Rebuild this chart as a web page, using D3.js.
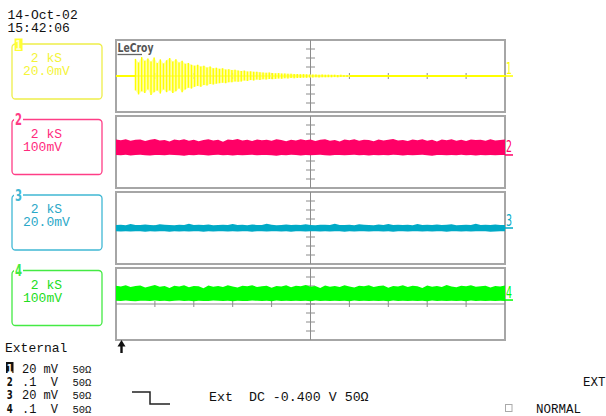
<!DOCTYPE html>
<html>
<head>
<meta charset="utf-8">
<script src="https://cdn.jsdelivr.net/npm/d3@7"></script>
<style>
  body { margin: 0; background: #fff; }
  text { font-family: "Liberation Mono", "DejaVu Sans Mono", monospace; }
</style>
</head>
<body>
<svg id="scope" width="606" height="416"></svg>
<script>
// ---- values ----
const stamp = ['14-Oct-02', '15:42:06'];
const channels = ['1', '2', '3', '4'];
const sampleRate = [' 2 kS', ' 2 kS', ' 2 kS', ' 2 kS'];
const voltsPerDiv = ['20.0mV', '100mV', '20.0mV', '100mV'];
const inputScale = ['20 mV', '.1  V', '20 mV', '.1  V'];
const inputImp = ['50Ω', '50Ω', '50Ω', '50Ω'];
const markerLevels = [0, -0.33, 0, 0.44]; // divisions
const triggerText = 'Ext  DC -0.400 V 50Ω';

// ch1: decaying burst, one spike every 0.08 div from 0.5 div
const burstStart = 0.5, burstStep = 0.08;
const yellowHi = [1.90,1.50,2.10,1.70,1.95,1.60,2.05,1.45,1.85,1.40,1.75,2.00,1.60,1.85,1.50,1.70,1.35,1.45,1.25,1.15,
  1.25,1.05,1.15,0.95,1.05,0.85,0.92,0.80,0.86,0.72,0.76,0.66,0.70,0.60,0.56,0.60,0.50,0.52,0.46,0.46,
  0.41,0.40,0.36,0.38,0.33,0.30,0.32,0.28,0.27,0.25,0.26,0.23,0.22,0.20,0.21,0.19,0.18,0.17,0.16,0.15,
  0.16,0.14,0.15,0.13,0.14,0.12,0.13,0.12,0.11,0.12];
const yellowLo = [-1.60,-2.05,-1.70,-1.90,-1.50,-2.10,-1.80,-1.60,-1.95,-1.50,-1.80,-1.60,-1.90,-1.70,-1.40,-1.80,-1.50,-1.30,-1.40,-1.20,
  -1.10,-1.20,-1.00,-1.05,-0.90,-0.95,-0.85,-0.80,-0.75,-0.80,-0.70,-0.70,-0.60,-0.65,-0.60,-0.50,-0.55,-0.45,-0.50,-0.40,
  -0.45,-0.35,-0.40,-0.33,-0.35,-0.32,-0.28,-0.30,-0.26,-0.27,-0.23,-0.24,-0.22,-0.21,-0.19,-0.20,-0.17,-0.18,-0.15,-0.16,
  -0.14,-0.15,-0.13,-0.14,-0.12,-0.13,-0.12,-0.11,-0.12,-0.11];

// ch2..ch4: noise band envelopes across the 10 divisions
const pinkHi = [1.38,1.30,1.42,1.25,1.36,1.40,1.22,1.35,1.44,1.28,1.33,1.18,1.39,1.31,1.43,1.26,1.37,1.20,1.34,1.41,
  1.29,1.36,1.15,1.38,1.32,1.44,1.27,1.35,1.21,1.40,1.30,1.37,1.24,1.42,1.33,1.19,1.36,1.28,1.41,1.31,
  1.38,1.23,1.35,1.43,1.26,1.34,1.17,1.39,1.30,1.42,1.25,1.37,1.32,1.20,1.40,1.29,1.36,1.44,1.27,1.33,
  1.22,1.38,1.31,1.41,1.24,1.35,1.18,1.39,1.30,1.43,1.26,1.36,1.21,1.40,1.32,1.37,1.25,1.42,1.29,1.34,1.38];
const pinkLo = [-0.33,-0.36,-0.31,-0.38,-0.34,-0.30,-0.35,-0.40,-0.32,-0.34,-0.37,-0.31,-0.33,-0.36,-0.42,-0.32,-0.35,-0.30,-0.34,-0.38,
  -0.33,-0.31,-0.36,-0.34,-0.39,-0.32,-0.35,-0.33,-0.30,-0.37,-0.34,-0.32,-0.36,-0.41,-0.33,-0.35,-0.31,-0.34,-0.38,-0.32,
  -0.36,-0.33,-0.30,-0.35,-0.39,-0.34,-0.32,-0.37,-0.33,-0.31,-0.36,-0.34,-0.40,-0.32,-0.35,-0.33,-0.37,-0.31,-0.34,-0.38,
  -0.32,-0.36,-0.33,-0.30,-0.35,-0.41,-0.34,-0.32,-0.37,-0.33,-0.35,-0.31,-0.36,-0.34,-0.39,-0.32,-0.35,-0.33,-0.37,-0.34,-0.32];
const cyanHi = [0.33,0.36,0.31,0.45,0.34,0.32,0.38,0.33,0.30,0.42,0.35,0.33,0.31,0.37,0.34,0.48,0.32,0.35,0.33,0.40,
  0.31,0.34,0.36,0.33,0.44,0.32,0.35,0.30,0.38,0.34,0.33,0.46,0.35,0.31,0.34,0.39,0.33,0.36,0.32,0.43,
  0.34,0.31,0.35,0.37,0.33,0.47,0.32,0.34,0.36,0.31,0.41,0.35,0.33,0.30,0.38,0.34,0.45,0.32,0.35,0.33,
  0.37,0.31,0.44,0.34,0.36,0.32,0.39,0.33,0.35,0.42,0.31,0.34,0.37,0.33,0.46,0.32,0.35,0.33,0.38,0.34,0.33];
const cyanLo = [-0.36,-0.38,-0.35,-0.40,-0.37,-0.36,-0.42,-0.35,-0.38,-0.37,-0.36,-0.41,-0.35,-0.38,-0.36,-0.39,-0.37,-0.35,-0.43,-0.36,
  -0.38,-0.35,-0.37,-0.40,-0.36,-0.38,-0.35,-0.37,-0.42,-0.36,-0.35,-0.39,-0.37,-0.36,-0.38,-0.35,-0.41,-0.37,-0.36,-0.38,
  -0.35,-0.37,-0.40,-0.36,-0.38,-0.35,-0.37,-0.43,-0.36,-0.38,-0.35,-0.37,-0.39,-0.36,-0.35,-0.38,-0.37,-0.41,-0.36,-0.35,
  -0.38,-0.37,-0.36,-0.40,-0.35,-0.38,-0.37,-0.36,-0.42,-0.35,-0.37,-0.38,-0.36,-0.39,-0.35,-0.37,-0.36,-0.41,-0.38,-0.36,-0.37];
const greenHi = [2.02,1.95,2.08,1.88,2.00,2.05,1.83,1.97,2.10,1.92,1.99,1.78,2.04,1.94,2.07,1.86,2.01,1.96,1.75,2.06,
  1.93,2.00,1.89,2.09,1.95,1.82,2.03,1.98,2.08,1.90,1.97,2.04,1.80,2.00,1.94,2.07,1.87,2.02,1.96,2.11,
  1.91,1.99,1.77,2.05,1.93,2.01,1.88,2.08,1.95,1.84,2.03,1.97,2.09,1.90,1.99,2.05,1.81,2.00,1.94,2.07,
  1.88,2.02,1.96,1.79,2.06,1.92,2.00,1.89,2.10,1.95,1.85,2.03,1.98,2.07,1.91,1.97,2.04,1.83,2.01,1.94,2.06];
const greenLo = [0.36,0.33,0.38,0.34,0.31,0.37,0.35,0.32,0.39,0.34,0.36,0.30,0.35,0.38,0.33,0.36,0.31,0.37,0.34,0.32,
  0.38,0.35,0.33,0.36,0.30,0.37,0.34,0.32,0.39,0.35,0.33,0.36,0.31,0.38,0.34,0.35,0.32,0.37,0.33,0.36,
  0.30,0.38,0.34,0.35,0.32,0.37,0.33,0.36,0.31,0.39,0.34,0.35,0.32,0.37,0.33,0.36,0.30,0.38,0.34,0.35,
  0.32,0.37,0.33,0.36,0.31,0.38,0.34,0.35,0.32,0.37,0.33,0.36,0.30,0.39,0.34,0.35,0.32,0.37,0.33,0.36,0.34];

// ---- layout / style ----
const traceColor = ['#ffff00', '#ff0066', '#00aac6', '#00ff00'];
const boxColor = ['#eeee4a', '#ff3d86', '#40b8d4', '#44ea44'];
const textColor = ['#f4f43a', '#ff2a7c', '#2aa8c8', '#22dd22'];
const gridColor = '#a6a6a6';
const panelTop = [40, 116, 192, 268];
const panelH = 72;
const boxTop = [44, 119.5, 195, 270.5];

const svg = d3.select('#scope');
svg.append('rect').attr('width', 606).attr('height', 416).attr('fill', '#fff');

const x = d3.scaleLinear().domain([0, 10]).range([116, 505]);

// timestamp
svg.selectAll('text.stamp')
  .data(stamp)
  .join('text')
  .attr('class', 'stamp')
  .attr('x', 7.5)
  .attr('y', (d, i) => 18.5 + i * 13)
  .attr('font-size', 13)
  .attr('fill', '#111')
  .text(d => d);

function noiseBand(g, y, lo, hi, color) {
  const n = hi.length;
  const pts = d3.zip(lo, hi);
  const area = d3.area()
    .x((d, j) => x(j * 10 / (n - 1)))
    .y0(d => y(d[0]))
    .y1(d => y(d[1]));
  g.append('path').attr('d', area(pts)).attr('fill', color);
}

channels.forEach((ch, i) => {
  const top = panelTop[i];
  const y = d3.scaleLinear().domain([-4, 4]).range([top + panelH, top]);
  const g = svg.append('g');

  // graticule
  g.append('rect')
    .attr('x', x(0)).attr('y', top)
    .attr('width', x(10) - x(0)).attr('height', panelH)
    .attr('fill', 'none').attr('stroke', gridColor).attr('stroke-width', 2);
  g.append('line')
    .attr('x1', x(5)).attr('x2', x(5)).attr('y1', top).attr('y2', top + panelH)
    .attr('stroke', '#8c8c8c').attr('stroke-width', 1);
  g.append('line')
    .attr('x1', x(0)).attr('x2', x(10)).attr('y1', y(0)).attr('y2', y(0))
    .attr('stroke', '#8c8c8c').attr('stroke-width', 1);
  g.selectAll('line.tx')
    .data(d3.range(1, 10))
    .join('line')
    .attr('x1', d => x(d)).attr('x2', d => x(d))
    .attr('y1', y(0) - 3).attr('y2', y(0) + 3)
    .attr('stroke', '#8c8c8c');
  g.selectAll('line.ty')
    .data(d3.range(-3, 4))
    .join('line')
    .attr('x1', x(5) - 4.5).attr('x2', x(5) + 4.5)
    .attr('y1', d => y(d)).attr('y2', d => y(d))
    .attr('stroke', '#8c8c8c');

  // traces
  if (i === 0) {
    g.append('line')
      .attr('x1', x(0)).attr('x2', x(10)).attr('y1', y(0)).attr('y2', y(0))
      .attr('stroke', traceColor[0]).attr('stroke-width', 2);
    const burst = d3.zip(yellowLo, yellowHi);
    const env = d3.area()
      .x((d, j) => x(burstStart + j * burstStep))
      .y0(d => y(d[0]))
      .y1(d => y(d[1]));
    g.append('path').attr('d', env(burst)).attr('fill', '#ffff90').attr('opacity', 0.75);
    g.selectAll('line.spike')
      .data(burst)
      .join('line')
      .attr('x1', (d, j) => x(burstStart + j * burstStep))
      .attr('x2', (d, j) => x(burstStart + j * burstStep))
      .attr('y1', d => y(d[0]))
      .attr('y2', d => y(d[1]))
      .attr('stroke', traceColor[0]).attr('stroke-width', 1.4);
  } else if (i === 1) {
    noiseBand(g, y, pinkLo, pinkHi, traceColor[1]);
  } else if (i === 2) {
    noiseBand(g, y, cyanLo, cyanHi, traceColor[2]);
  } else {
    noiseBand(g, y, greenLo, greenHi, traceColor[3]);
  }

  // trace marker at the right edge
  const ly = y(markerLevels[i]);
  g.append('line')
    .attr('x1', x(10)).attr('x2', x(10) + 8).attr('y1', ly).attr('y2', ly)
    .attr('stroke', traceColor[i]).attr('stroke-width', 1.5);
  g.append('text')
    .attr('x', 506).attr('y', ly - 2.5)
    .attr('font-size', 16)
    .attr('textLength', 6).attr('lengthAdjust', 'spacingAndGlyphs')
    .style('font-family', '"DejaVu Sans", sans-serif')
    .attr('fill', traceColor[i])
    .text(ch);

  // channel box on the left
  const bt = boxTop[i];
  const b = svg.append('g');
  b.append('rect')
    .attr('x', 12).attr('y', bt).attr('width', 90).attr('height', 55).attr('rx', 3.5)
    .attr('fill', 'none').attr('stroke', boxColor[i]).attr('stroke-width', 1.3);
  if (i === 0) {
    b.append('rect').attr('x', 14.5).attr('y', bt - 5.5).attr('width', 8).attr('height', 12.5)
      .attr('fill', '#ffff33');
    b.append('text').attr('x', 15.5).attr('y', bt + 5.5)
      .attr('font-size', 14).attr('font-weight', 'bold')
      .attr('textLength', 6).attr('lengthAdjust', 'spacingAndGlyphs')
      .style('font-family', '"DejaVu Sans", sans-serif')
      .attr('fill', '#ffffd0').text(ch);
  } else {
    b.append('rect').attr('x', 14).attr('y', bt - 2).attr('width', 9).attr('height', 4).attr('fill', '#fff');
    b.append('text').attr('x', 15).attr('y', bt + 5.5)
      .attr('font-size', 16).attr('font-weight', 'bold')
      .attr('textLength', 7).attr('lengthAdjust', 'spacingAndGlyphs')
      .style('font-family', '"DejaVu Sans", sans-serif')
      .attr('fill', boxColor[i]).text(ch);
  }
  b.append('text').attr('x', 23).attr('y', bt + 18)
    .attr('font-size', 13).attr('fill', textColor[i])
    .attr('xml:space', 'preserve').style('white-space', 'pre')
    .text(sampleRate[i]);
  b.append('text').attr('x', 23).attr('y', bt + 31)
    .attr('font-size', 13).attr('fill', textColor[i])
    .text(voltsPerDiv[i]);
});

// LeCroy logo
svg.append('text')
  .attr('x', 117.5).attr('y', 52)
  .attr('font-size', 11.5).attr('font-weight', 'bold')
  .attr('textLength', 36).attr('lengthAdjust', 'spacingAndGlyphs')
  .style('font-family', '"DejaVu Sans", sans-serif')
  .attr('fill', '#555').text('LeCroy');
svg.append('line').attr('x1', 117.5).attr('x2', 142).attr('y1', 54.5).attr('y2', 54.5)
  .attr('stroke', '#666').attr('stroke-width', 1.3);

// trigger position arrow
svg.append('path')
  .attr('d', 'M117.5,346.5 L121.5,340 L125.5,346.5 Z M120.3,346 H122.7 V353 H120.3 Z')
  .attr('fill', '#111');

// bottom-left input summary
svg.append('text').attr('x', 5).attr('y', 352).attr('font-size', 13).attr('fill', '#111').text('External');
const rowBase = [372.5, 385.9, 399.3, 412.7];
channels.forEach((ch, i) => {
  const by = rowBase[i];
  if (i === 0) {
    svg.append('rect').attr('x', 6).attr('y', by - 10.5).attr('width', 7.5).attr('height', 11).attr('fill', '#111');
  }
  svg.append('text').attr('x', 6.8).attr('y', by)
    .attr('font-size', 12.5).attr('font-weight', 'bold')
    .attr('textLength', 6).attr('lengthAdjust', 'spacingAndGlyphs')
    .style('font-family', '"DejaVu Sans", sans-serif')
    .attr('fill', i === 0 ? '#fff' : '#111').text(ch);
  svg.append('text').attr('x', 22).attr('y', by)
    .attr('font-size', 12).attr('fill', '#111')
    .attr('xml:space', 'preserve').style('white-space', 'pre')
    .text(inputScale[i]);
  svg.append('text').attr('x', 72.5).attr('y', by)
    .attr('font-size', 10.5).attr('fill', '#111')
    .text(inputImp[i]);
});

// trigger description
svg.append('path').attr('d', 'M132,392 H150 V404 H170')
  .attr('fill', 'none').attr('stroke', '#222').attr('stroke-width', 1.5);
svg.append('text').attr('x', 209).attr('y', 401)
  .attr('font-size', 13.3).attr('fill', '#111')
  .attr('xml:space', 'preserve').style('white-space', 'pre')
  .text(triggerText);
svg.append('text').attr('x', 583).attr('y', 386).attr('font-size', 12.5).attr('fill', '#111').text('EXT');
svg.append('rect').attr('x', 505.5).attr('y', 404.5).attr('width', 6.5).attr('height', 7)
  .attr('fill', 'none').attr('stroke', '#aaa');
svg.append('text').attr('x', 536).attr('y', 412.5).attr('font-size', 12.5).attr('fill', '#111').text('NORMAL');
</script>
</body>
</html>
